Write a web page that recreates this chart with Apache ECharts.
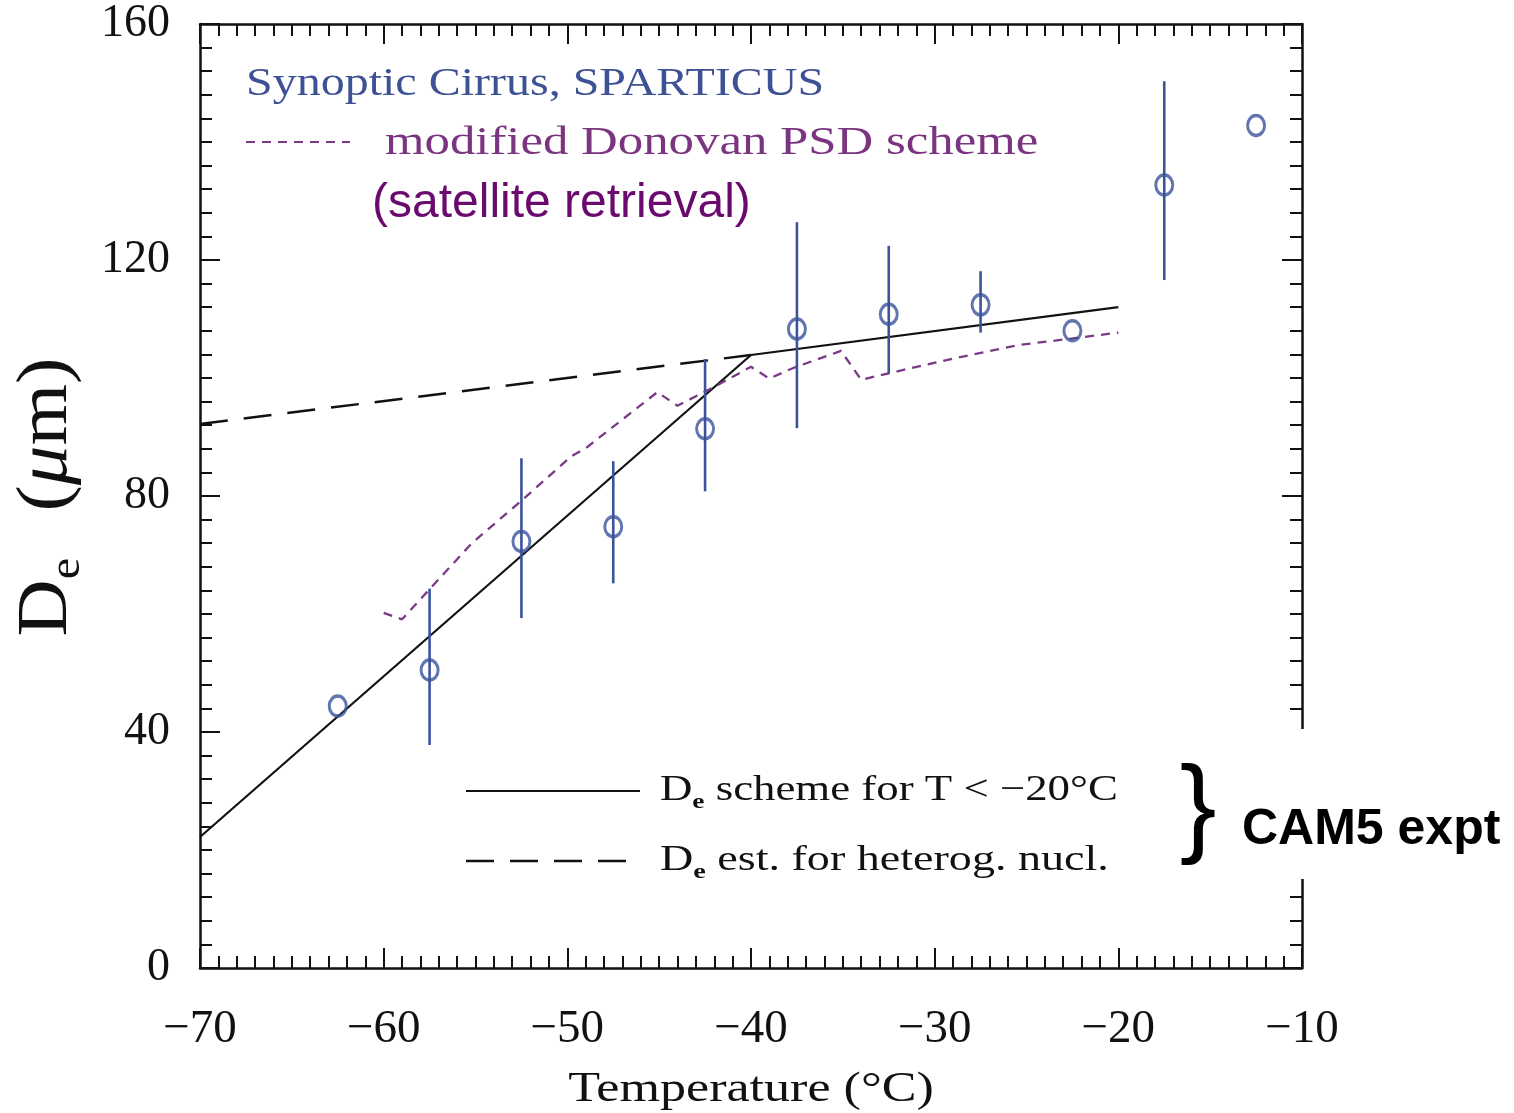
<!DOCTYPE html>
<html>
<head>
<meta charset="utf-8">
<script src="https://cdn.jsdelivr.net/npm/echarts@6/dist/echarts.min.js"></script>
<style>
  html, body { margin: 0; padding: 0; background: #ffffff; }
  #chart { width: 1514px; height: 1113px; }
</style>
</head>
<body>
<div id="chart"></div>
<script>
// ---- Data ----
const obsTemp   = [-62.5, -57.5, -52.5, -47.5, -42.5, -37.5, -32.5, -27.5, -22.5, -17.5, -12.5];
const obsDe     = [44.4, 50.5, 72.3, 74.8, 91.4, 108.3, 110.8, 112.4, 108.0, 132.7, 142.8];
const obsLow    = [null, 37.8, 59.3, 65.2, 80.8, 91.5, 100.8, 107.7, null, 116.6, null];
const obsHigh   = [null, 64.3, 86.4, 85.9, 103.2, 126.4, 122.4, 118.1, null, 150.3, null];

const donovanTemp = [-60, -59, -57.5, -55.2, -52.5, -49.8, -49, -45.1, -44, -42, -40, -39, -37.7, -35.1, -34, -32.5, -29, -25.4, -22.5, -20];
const donovanDe   = [60.2, 59.1, 64.2, 72.0, 79.2, 86.7, 88.1, 97.6, 95.3, 98.5, 101.9, 99.9, 101.7, 104.6, 99.7, 100.8, 103.3, 105.6, 106.7, 107.7];

const schemeTemp = [-70, -40, -20];
const schemeDe   = [22.2, 103.9, 112.0];

const heterogTemp = [-70, -40];
const heterogDe   = [92.2, 103.9];

const xTicks = { min: -70, max: -10, interval: 10 };
const yTicks = { min: 0, max: 160, interval: 40 };

// ---- Styles ----
const BLUE = '#3a539b';
const PURPLE = '#7a3a86';
const INK = '#111111';
const SERIF = '"Liberation Serif", "DejaVu Serif", serif';
const SANS = '"Liberation Sans", Arial, sans-serif';

const obsPoints = obsTemp.map((t, i) => [t, obsDe[i]]);
const errBars = [];
obsTemp.forEach((t, i) => { if (obsLow[i] != null) errBars.push([t, obsLow[i], obsHigh[i]]); });
const donovan = donovanTemp.map((t, i) => [t, donovanDe[i]]);
const scheme = schemeTemp.map((t, i) => [t, schemeDe[i]]);
const heterog = heterogTemp.map((t, i) => [t, heterogDe[i]]);

const minusFmt = v => (v < 0 ? '\u2212' : '') + Math.abs(v);

function xAxisDef(pos, showLabel) {
  return {
    type: 'value', position: pos, min: xTicks.min, max: xTicks.max, interval: xTicks.interval,
    axisLine: { show: true, onZero: false, lineStyle: { color: INK, width: 2.5 } },
    axisTick: { show: true, inside: true, length: 20, lineStyle: { color: INK, width: 2 } },
    minorTick: { show: true, splitNumber: 10, length: 12, lineStyle: { color: INK, width: 2 } },
    splitLine: { show: false },
    axisLabel: { show: showLabel, formatter: minusFmt, fontFamily: SERIF, fontSize: 47, color: INK, margin: 38 }
  };
}
function yAxisDef(pos, showLabel) {
  return {
    type: 'value', position: pos, min: yTicks.min, max: yTicks.max, interval: yTicks.interval,
    axisLine: { show: true, onZero: false, lineStyle: { color: INK, width: 2.5 } },
    axisTick: { show: true, inside: true, length: 20, lineStyle: { color: INK, width: 2 } },
    minorTick: { show: true, splitNumber: 10, length: 12, lineStyle: { color: INK, width: 2 } },
    splitLine: { show: false },
    axisLabel: { show: showLabel, fontFamily: SERIF, fontSize: 46, color: INK, margin: 30 }
  };
}

const subRich = {
  d: { fontFamily: SERIF, fontSize: 36, lineHeight: 40, verticalAlign: 'top', fill: INK },
  e: { fontFamily: SERIF, fontSize: 22, lineHeight: 22, verticalAlign: 'bottom', fill: INK, fontWeight: 'bold' },
  t: { fontFamily: SERIF, fontSize: 36, lineHeight: 40, verticalAlign: 'top', fill: INK }
};

const chart = echarts.init(document.getElementById('chart'), null, { renderer: 'canvas' });

const option = {
  backgroundColor: '#ffffff',
  animation: false,
  grid: { left: 200, right: 212, top: 24, bottom: 145, containLabel: false },
  xAxis: [xAxisDef('bottom', true), xAxisDef('top', false)],
  yAxis: [yAxisDef('left', true), yAxisDef('right', false)],
  series: [
    {
      name: 'heterog', type: 'line', data: heterog, showSymbol: false, symbol: 'none',
      lineStyle: { color: INK, width: 2.5, type: [28, 16] }, z: 3
    },
    {
      name: 'scheme', type: 'line', data: scheme, showSymbol: false, symbol: 'none',
      lineStyle: { color: INK, width: 2.2 }, z: 3
    },
    {
      name: 'donovan', type: 'line', data: donovan, showSymbol: false, symbol: 'none',
      lineStyle: { color: PURPLE, width: 2.3, type: [9, 7] }, z: 4
    },
    {
      name: 'errbars', type: 'custom', data: errBars, encode: { x: 0, y: [1, 2] },
      renderItem: function (params, api) {
        const x = api.value(0);
        const p1 = api.coord([x, api.value(1)]);
        const p2 = api.coord([x, api.value(2)]);
        return { type: 'line', shape: { x1: p1[0], y1: p1[1], x2: p2[0], y2: p2[1] },
                 style: { stroke: BLUE, lineWidth: 2.6 } };
      }, z: 5
    },
    {
      name: 'obs', type: 'scatter', data: obsPoints, symbol: 'circle', symbolSize: [17, 20],
      itemStyle: { color: 'rgba(0,0,0,0)', borderColor: BLUE, borderWidth: 3.2 }, z: 6
    }
  ],
  graphic: [
    // y axis title, rotated
    {
      type: 'text', x: 50, y: 497, rotation: Math.PI / 2, scaleX: 1.1, z: 100,
      style: {
        text: '{d|D}{e|e}{g| }{p|(}{mu|\u03BC}{p|m)}',
        align: 'center', verticalAlign: 'middle', fill: INK,
        rich: {
          d: { fontFamily: SERIF, fontSize: 72, lineHeight: 78, verticalAlign: 'top', fill: INK },
          e: { fontFamily: SERIF, fontSize: 44, lineHeight: 44, verticalAlign: 'bottom', fill: INK },
          g: { fontFamily: SERIF, fontSize: 72, lineHeight: 78, verticalAlign: 'top', width: 42 },
          p: { fontFamily: SERIF, fontSize: 72, lineHeight: 78, verticalAlign: 'top', fill: INK },
          mu: { fontFamily: SERIF, fontSize: 72, lineHeight: 78, verticalAlign: 'top', fontStyle: 'italic', fill: INK }
        }
      }
    },
    // x axis title
    {
      type: 'text', x: 751, y: 1090, scaleX: 1.24, z: 100,
      style: { text: 'Temperature (\u00B0C)', font: '42px ' + SERIF, fill: INK, align: 'center', verticalAlign: 'middle' }
    },
    // top-left legend
    {
      type: 'text', x: 246, y: 84, scaleX: 1.2, z: 100,
      style: { text: 'Synoptic Cirrus, SPARTICUS', font: '40px ' + SERIF, fill: '#3d5294', align: 'left', verticalAlign: 'middle' }
    },
    {
      type: 'line', z: 100, shape: { x1: 246, y1: 142, x2: 350, y2: 142 },
      style: { stroke: PURPLE, lineWidth: 2, lineDash: [9, 7] }
    },
    {
      type: 'text', x: 385, y: 143, scaleX: 1.27, z: 100,
      style: { text: 'modified Donovan PSD scheme', font: '40px ' + SERIF, fill: '#7b3580', align: 'left', verticalAlign: 'middle' }
    },
    {
      type: 'text', x: 372, y: 204, z: 100,
      style: { text: '(satellite retrieval)', font: '48px ' + SANS, fill: '#6a0a6e', align: 'left', verticalAlign: 'middle' }
    },
    // bottom legend
    {
      type: 'line', z: 100, shape: { x1: 466, y1: 791, x2: 640, y2: 791 },
      style: { stroke: INK, lineWidth: 2.2 }
    },
    {
      type: 'text', x: 660, y: 793, scaleX: 1.245, z: 100,
      style: { text: '{d|D}{e|e}{t| scheme for T < \u221220\u00B0C}', align: 'left', verticalAlign: 'middle', rich: subRich }
    },
    {
      type: 'line', z: 100, shape: { x1: 466, y1: 861, x2: 635, y2: 861 },
      style: { stroke: INK, lineWidth: 2.5, lineDash: [28, 16] }
    },
    {
      type: 'text', x: 660, y: 863, scaleX: 1.28, z: 100,
      style: { text: '{d|D}{e|e}{t| est. for heterog. nucl.}', align: 'left', verticalAlign: 'middle', rich: subRich }
    },
    // pasted annotation box (covers the right axis there)
    {
      type: 'rect', z: 90, shape: { x: 1170, y: 729, width: 344, height: 150 },
      style: { fill: '#ffffff' }
    },
    {
      type: 'text', x: 1198, y: 812, z: 100,
      style: { text: '}', font: '110px ' + SANS, fill: '#000000', align: 'center', verticalAlign: 'middle' }
    },
    {
      type: 'text', x: 1242, y: 830, z: 100,
      style: { text: 'CAM5 expt', font: 'bold 50px ' + SANS, fill: '#000000', align: 'left', verticalAlign: 'middle' }
    }
  ]
};

chart.setOption(option);
</script>
</body>
</html>
